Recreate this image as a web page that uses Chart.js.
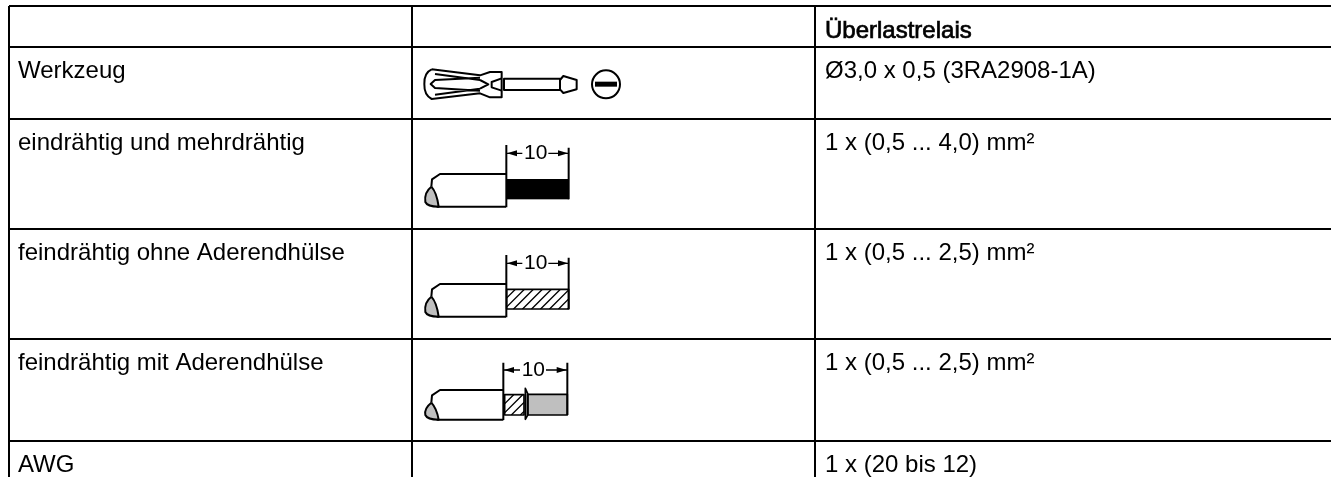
<!DOCTYPE html>
<html>
<head>
<meta charset="utf-8">
<style>
  html, body { margin: 0; padding: 0; background: #fff; overflow: hidden; }
  canvas { display: block; }
</style>
<script src="https://cdn.jsdelivr.net/npm/chart.js@4"></script>
</head>
<body>
<canvas id="tableChart" width="1331" height="477"></canvas>
<script>
const COLUMN_EDGES = [9, 412, 815];
const ROW_EDGES = [6, 47, 119, 229, 339, 441];

const HEADERS = ["", "", "Überlastrelais"];
const ROW_LABELS = ["Werkzeug", "eindrähtig und mehrdrähtig", "feindrähtig ohne Aderendhülse", "feindrähtig mit Aderendhülse", "AWG"];
const ROW_VALUES = ["Ø3,0 x 0,5 (3RA2908-1A)", "1 x (0,5 ... 4,0) mm²", "1 x (0,5 ... 2,5) mm²", "1 x (0,5 ... 2,5) mm²", "1 x (20 bis 12)"];
const DIMENSION_LABEL = "10";

const FONT = '24px "Liberation Sans", Arial, sans-serif';

// hatch lines clipped to the given rect, zoomed-up icon units
function hatch(ctx, x0, y0, x1, y1, step) {
  ctx.save();
  ctx.beginPath();
  ctx.rect(x0, y0, x1 - x0, y1 - y0);
  ctx.clip();
  ctx.beginPath();
  for (let x = x0; x < x1 + (y1 - y0); x += step) {
    ctx.moveTo(x, y0);
    ctx.lineTo(x - (y1 - y0), y1);
  }
  ctx.stroke();
  ctx.restore();
}

function arrowHead(ctx, x, y, dir) {
  ctx.beginPath();
  ctx.moveTo(x, y);
  ctx.lineTo(x + dir * 30, y - 9);
  ctx.lineTo(x + dir * 30, y + 9);
  ctx.closePath();
  ctx.fill();
}

function drawScrewdriver(ctx) {
  ctx.lineWidth = 6;
  ctx.lineJoin = "round";
  // handle
  ctx.beginPath();
  ctx.moveTo(35, 208);
  ctx.lineTo(180, 226);
  ctx.lineTo(210, 216);
  ctx.lineTo(245, 216);
  ctx.lineTo(245, 292);
  ctx.lineTo(210, 292);
  ctx.lineTo(180, 280);
  ctx.lineTo(35, 297);
  ctx.quadraticCurveTo(12, 285, 13, 252);
  ctx.quadraticCurveTo(12, 218, 35, 208);
  ctx.stroke();
  // handle grooves
  ctx.beginPath();
  ctx.moveTo(180, 233);
  ctx.lineTo(45, 240);
  ctx.lineTo(32, 252);
  ctx.lineTo(45, 264);
  ctx.lineTo(180, 272);
  ctx.moveTo(45, 222);
  ctx.lineTo(180, 240);
  ctx.moveTo(45, 284);
  ctx.lineTo(180, 266);
  ctx.moveTo(180, 240);
  ctx.lineTo(205, 253);
  ctx.lineTo(180, 266);
  ctx.moveTo(245, 235);
  ctx.lineTo(215, 246);
  ctx.lineTo(215, 262);
  ctx.lineTo(245, 272);
  ctx.stroke();
  // shaft and tip
  ctx.beginPath();
  ctx.rect(252, 236, 168, 34);
  ctx.moveTo(420, 240);
  ctx.lineTo(430, 228);
  ctx.lineTo(470, 240);
  ctx.lineTo(470, 268);
  ctx.lineTo(430, 279);
  ctx.lineTo(420, 268);
  ctx.closePath();
  ctx.stroke();
  // slot symbol
  ctx.beginPath();
  ctx.arc(558, 253, 42, 0, Math.PI * 2);
  ctx.stroke();
  ctx.fillRect(525, 245, 66, 15);
}

function drawJacket(ctx, left, top, bottom) {
  ctx.beginPath();
  ctx.moveTo(left, top);
  ctx.lineTo(60, top);
  ctx.lineTo(36, top + 16);
  ctx.lineTo(34, top + 38);
  ctx.moveTo(50, bottom);
  ctx.lineTo(left, bottom);
  ctx.stroke();
  // cut end
  ctx.fillStyle = "#bfbfbf";
  ctx.beginPath();
  ctx.moveTo(34, top + 38);
  ctx.quadraticCurveTo(12, top + 55, 16, bottom - 14);
  ctx.quadraticCurveTo(22, bottom, 56, bottom);
  ctx.quadraticCurveTo(50, top + 55, 34, top + 38);
  ctx.fill();
  ctx.stroke();
  ctx.fillStyle = "#000";
}

function drawDimension(ctx, left, right, y, textX) {
  ctx.lineWidth = 4;
  ctx.beginPath();
  ctx.moveTo(left, y);
  ctx.lineTo(textX - 40, y);
  ctx.moveTo(textX + 38, y);
  ctx.lineTo(right, y);
  ctx.stroke();
  arrowHead(ctx, left + 2, y, 1);
  arrowHead(ctx, right - 2, y, -1);
  ctx.save();
  ctx.font = '63px "Liberation Sans", Arial, sans-serif';
  ctx.textAlign = "center";
  ctx.textBaseline = "middle";
  ctx.fillText(DIMENSION_LABEL, textX, y);
  ctx.restore();
  ctx.lineWidth = 6;
}

function drawSolidWire(ctx, style) {
  ctx.lineWidth = 6;
  ctx.lineJoin = "round";
  drawJacket(ctx, 258, 192, 290);
  if (style === "solid") {
    ctx.fillRect(260, 207, 187, 61);
  } else {
    ctx.lineWidth = 4;
    hatch(ctx, 260, 207, 447, 268, 27);
    ctx.lineWidth = 5;
    ctx.strokeRect(260, 208, 186, 59);
  }
  ctx.lineWidth = 6;
  ctx.beginPath();
  ctx.moveTo(259, 105);
  ctx.lineTo(259, 292);
  ctx.moveTo(446, 113);
  ctx.lineTo(446, 268);
  ctx.stroke();
  drawDimension(ctx, 259, 446, 130, 347);
}

function drawFerruleWire(ctx) {
  ctx.lineWidth = 6;
  ctx.lineJoin = "round";
  drawJacket(ctx, 250, 150, 239);
  ctx.lineWidth = 4;
  hatch(ctx, 254, 164, 312, 225, 27);
  ctx.lineWidth = 5;
  ctx.strokeRect(254, 164, 58, 61);
  // ferrule
  ctx.fillStyle = "#bfbfbf";
  ctx.fillRect(322, 163, 120, 62);
  ctx.strokeRect(322, 163, 120, 62);
  ctx.fillStyle = "#000";
  ctx.beginPath();
  ctx.moveTo(316, 145);
  ctx.lineTo(316, 238);
  ctx.lineTo(324, 224);
  ctx.lineTo(324, 163);
  ctx.closePath();
  ctx.stroke();
  ctx.lineWidth = 6;
  ctx.beginPath();
  ctx.moveTo(250, 68);
  ctx.lineTo(250, 240);
  ctx.moveTo(442, 68);
  ctx.lineTo(442, 225);
  ctx.stroke();
  drawDimension(ctx, 250, 442, 90, 340);
}

const tablePlugin = {
  id: "tablePlugin",
  afterDraw(chart) {
    const { ctx, scales } = chart;
    const x = scales.x, y = scales.y;
    ctx.save();
    ctx.fillStyle = "#000";
    ctx.strokeStyle = "#000";
    ctx.font = FONT;
    ctx.textBaseline = "alphabetic";

    HEADERS.forEach((text, i) => {
      if (!text) return;
      const px = x.getPixelForValue(COLUMN_EDGES[i] + 10);
      const py = y.getPixelForValue(ROW_EDGES[0] + 32);
      ctx.lineWidth = 0.7;
      ctx.fillText(text, px, py);
      ctx.strokeText(text, px, py);
    });
    ROW_LABELS.forEach((text, i) => {
      const py = y.getPixelForValue(ROW_EDGES[i + 1] + 31);
      ctx.fillText(text, x.getPixelForValue(COLUMN_EDGES[0] + 9), py);
      ctx.fillText(ROW_VALUES[i], x.getPixelForValue(COLUMN_EDGES[2] + 10), py);
    });
    ctx.restore();

    // icons, local units are 3x pixels
    const icons = [
      [0, () => drawScrewdriver(ctx)],
      [110, () => drawSolidWire(ctx, "solid")],
      [220, () => drawSolidWire(ctx, "hatched")],
      [340, () => drawFerruleWire(ctx)]
    ];
    icons.forEach(([top, draw]) => {
      ctx.save();
      ctx.translate(x.getPixelForValue(420), y.getPixelForValue(top));
      ctx.scale(1 / 3, 1 / 3);
      ctx.fillStyle = "#000";
      ctx.strokeStyle = "#000";
      draw();
      ctx.restore();
    });
  }
};

function gridAxis(position, edges, min, max, reverse) {
  return {
    type: "linear",
    position: position,
    min: min,
    max: max,
    reverse: reverse,
    afterBuildTicks: scale => { scale.ticks = edges.map(v => ({ value: v })); },
    ticks: { display: false },
    border: { display: false },
    grid: { color: "#000", lineWidth: 2, drawTicks: false }
  };
}

new Chart(document.getElementById("tableChart"), {
  type: "scatter",
  data: { datasets: [] },
  options: {
    responsive: false,
    animation: false,
    layout: { padding: { left: 9, top: 6, right: 0, bottom: 0 } },
    plugins: { legend: { display: false }, tooltip: { enabled: false } },
    scales: {
      x: gridAxis("top", COLUMN_EDGES, 9, 1331, false),
      y: gridAxis("left", ROW_EDGES, 6, 477, true)
    }
  },
  plugins: [tablePlugin]
});
</script>
</body>
</html>
